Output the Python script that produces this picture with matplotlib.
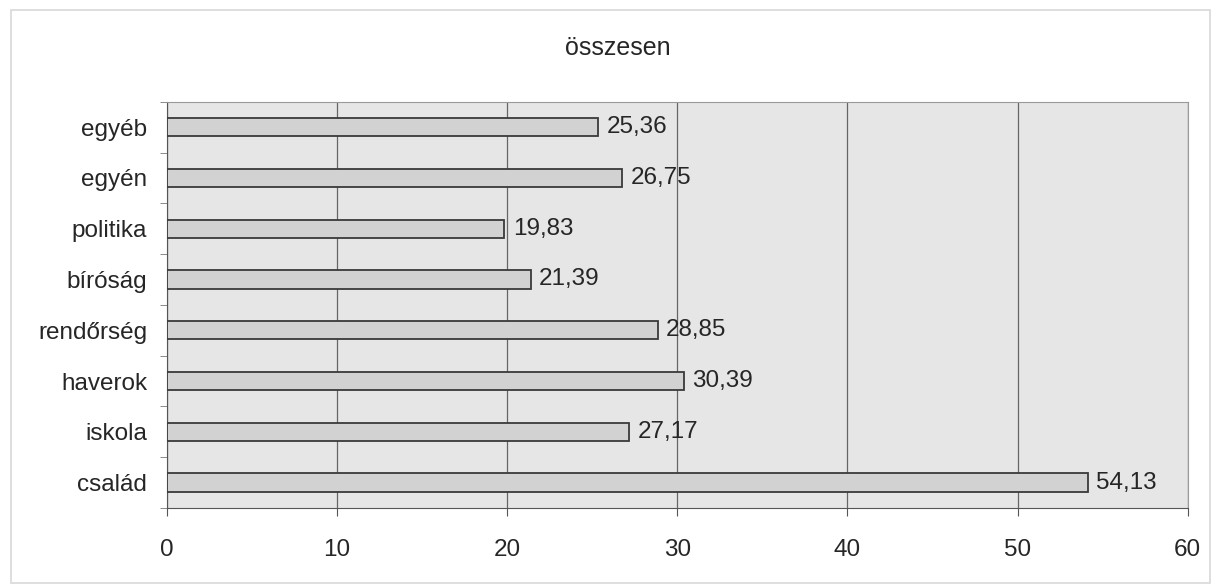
import numpy as np
import matplotlib.pyplot as plt
from matplotlib.patches import Rectangle

plt.rcParams['font.family'] = ['Liberation Sans', 'DejaVu Sans']

categories = ['család', 'iskola', 'haverok', 'rendőrség', 'bíróság', 'politika', 'egyén', 'egyéb']
values = [54.13, 27.17, 30.39, 28.85, 21.39, 19.83, 26.75, 25.36]
value_labels = ['54,13', '27,17', '30,39', '28,85', '21,39', '19,83', '26,75', '25,36']

fs = 17.5
fig = plt.figure(figsize=(12.17, 5.88), dpi=100)
fig.patches.append(Rectangle((0.009, 0.008), 0.985, 0.975, transform=fig.transFigure,
                             fill=False, edgecolor='#d8d8d8', linewidth=1.2))
ax = fig.add_axes([0.137, 0.136, 0.839, 0.691])
ax.set_facecolor('#e6e6e6')

y = np.arange(len(categories))
ax.barh(y, values, height=0.36, color='#d2d2d2', edgecolor='#3a3a3a', linewidth=1.3, zorder=3)
for yi, v, lab in zip(y, values, value_labels):
    ax.text(v + 0.5, yi, lab, va='center', ha='left', fontsize=fs, color='#262626', zorder=4)

ax.set_xlim(0, 60)
ax.set_ylim(-0.5, len(categories) - 0.5)
ax.set_xticks(np.arange(0, 61, 10))
ax.set_yticks(y)
ax.set_yticklabels(categories)
ax.set_yticks(np.arange(-0.5, len(categories), 1), minor=True)
ax.tick_params(axis='y', which='major', length=0, pad=14, labelsize=fs, labelcolor='#262626')
ax.tick_params(axis='y', which='minor', length=5, color='#777777')
ax.tick_params(axis='x', length=6, pad=16, labelsize=fs, labelcolor='#262626', color='#555555')
ax.grid(axis='x', color='#666666', linewidth=0.9, zorder=1)

for side in ['top', 'right']:
    ax.spines[side].set_color('#9a9a9a')
for side in ['left', 'bottom']:
    ax.spines[side].set_color('#555555')

fig.text(0.508, 0.918, 'összesen', ha='center', va='center', fontsize=18, color='#262626')

fig.savefig('out.png', dpi=100)
